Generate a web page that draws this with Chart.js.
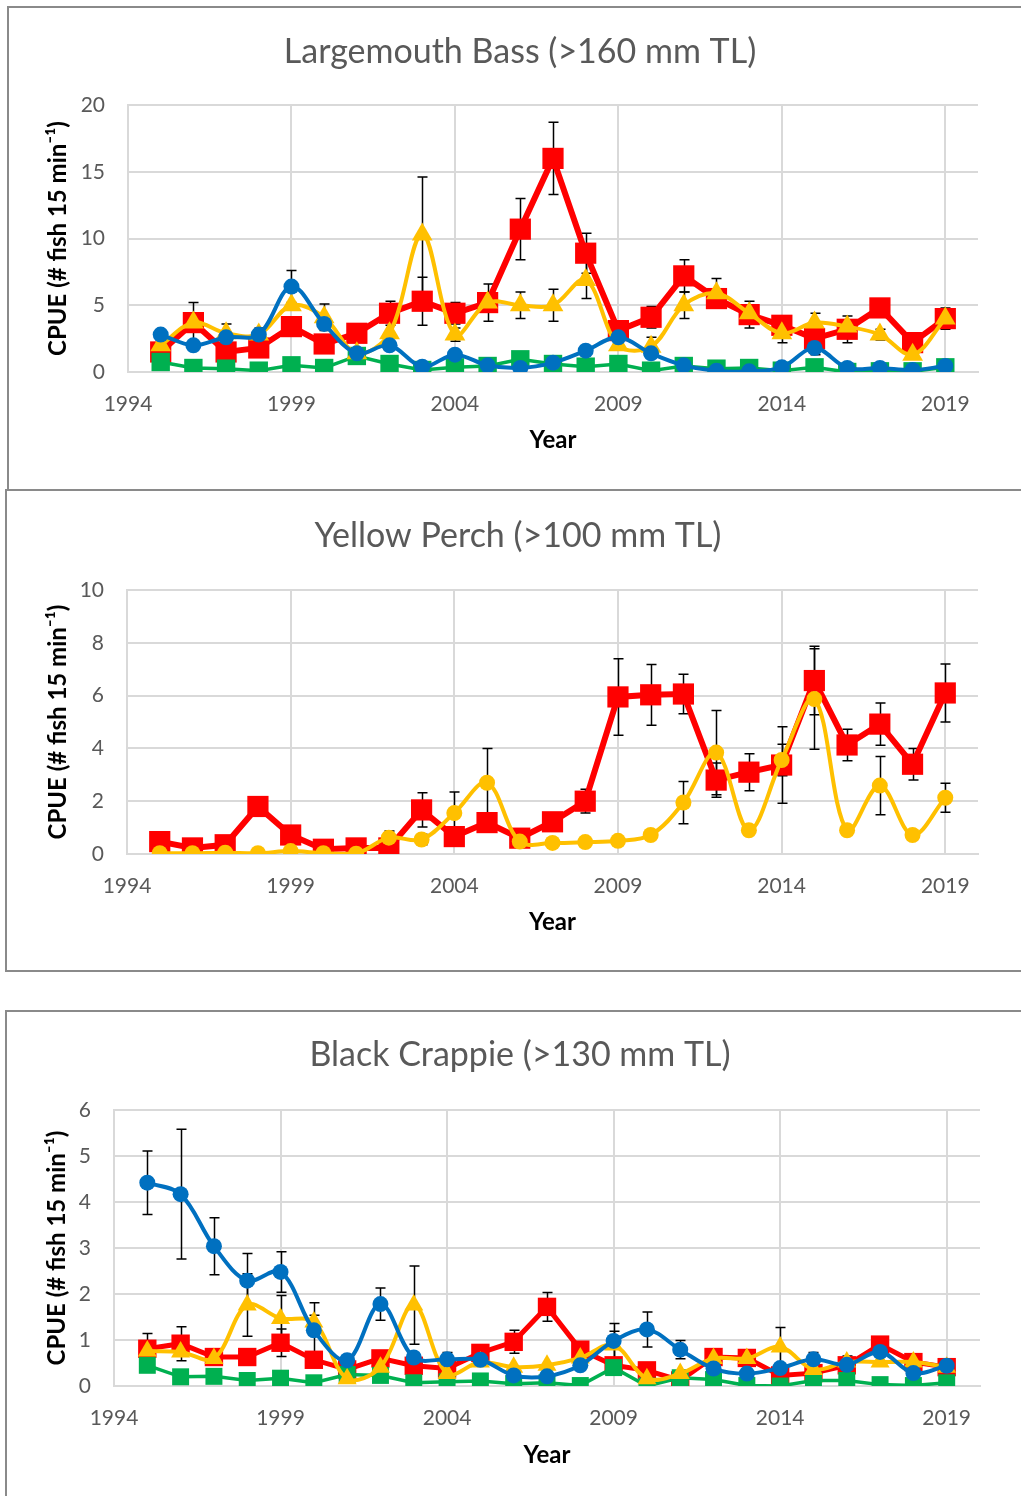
<!DOCTYPE html>
<html>
<head>
<meta charset="utf-8">
<script src="https://cdn.jsdelivr.net/npm/chart.js@4"></script>
<style>
  html, body { margin: 0; padding: 0; background: #fff; overflow: hidden; }
  body { width: 1021px; height: 1496px; position: relative; }
  .box { position: absolute; border: 2px solid #8a8a8a; border-right: none; width: 1100px; }
  canvas { position: absolute; }
</style>
</head>
<body>
<div class="box" style="left:7px; top:6px; height:481px;"></div>
<div class="box" style="left:5px; top:489px; height:479px;"></div>
<div class="box" style="left:5px; top:1010px; height:520px;"></div>

<canvas id="lmb" width="1011" height="480" style="left:10px; top:9px;"></canvas>
<canvas id="yp"  width="1013" height="478" style="left:8px; top:492px;"></canvas>
<canvas id="bc"  width="1013" height="483" style="left:8px; top:1013px;"></canvas>

<script>
// ── Data ──────────────────────────────────────────────────────────────────────
const years  = [1995, 1996, 1997, 1998, 1999, 2000, 2001, 2002, 2003, 2004, 2005, 2006, 2007,
                2008, 2009, 2010, 2011, 2012, 2013, 2014, 2015, 2016, 2017, 2018, 2019];
const xTicks = [1994, 1999, 2004, 2009, 2014, 2019];

// Largemouth Bass (>160 mm TL)
const lmbRed       = [1.5, 3.7, 1.5, 1.8, 3.4, 2.1, 2.9, 4.4, 5.3, 4.4, 5.2, 10.7, 16.0, 8.9, 3.1, 4.1, 7.2, 5.5, 4.3, 3.5, 2.5, 3.2, 4.8, 2.2, 4.0];
const lmbRedErr    = [0, 1.5, 0, 0, 0, 0, 0, 0.9, 1.8, 0.8, 1.4, 2.3, 2.7, 1.5, 0, 0.8, 1.2, 0.5, 1.0, 0, 0, 1.0, 0, 0, 0.8];
const lmbYellow    = [2.0, 3.7, 2.9, 2.8, 5.0, 4.1, 1.4, 2.9, 10.3, 2.8, 5.2, 5.0, 5.0, 6.9, 2.0, 1.9, 5.0, 5.9, 4.4, 2.9, 3.7, 3.4, 2.8, 1.3, 4.0];
const lmbYellowErr = [0, 0, 0.7, 0, 0, 1.0, 0, 0, 4.3, 0.5, 0, 1.0, 1.2, 1.4, 0, 0.7, 1.0, 1.1, 0, 0.7, 0.7, 0, 0.4, 0, 0];
const lmbBlue      = [2.8, 2.0, 2.6, 2.8, 6.4, 3.6, 1.4, 2.0, 0.4, 1.3, 0.5, 0.3, 0.7, 1.6, 2.6, 1.4, 0.5, 0.1, 0.05, 0.35, 1.8, 0.3, 0.3, 0.15, 0.45];
const lmbBlueErr   = [0, 0, 0, 0.5, 1.2, 0, 0, 0, 0, 0, 0, 0, 0, 0, 0, 0, 0, 0, 0, 0, 0.5, 0, 0, 0, 0];
const lmbGreen     = [0.75, 0.3, 0.25, 0.1, 0.5, 0.3, 1.2, 0.6, 0.15, 0.35, 0.45, 0.95, 0.6, 0.4, 0.6, 0.1, 0.45, 0.25, 0.3, 0.1, 0.35, 0, 0.05, 0.05, 0.35];

// Yellow Perch (>100 mm TL)
const ypRed        = [0.47, 0.23, 0.35, 1.8, 0.72, 0.18, 0.23, 0.23, 1.67, 0.66, 1.19, 0.6, 1.22, 2.0, 5.95, 6.03, 6.06, 2.8, 3.1, 3.37, 6.57, 4.13, 4.92, 3.4, 6.1];
const ypRedErr     = [0, 0, 0, 0, 0, 0, 0, 0, 0.65, 0, 0, 0, 0.3, 0.45, 1.45, 1.15, 0.75, 0.65, 0.7, 1.45, 1.3, 0.6, 0.8, 0.6, 1.1];
const ypYellow     = [0.03, 0.03, 0.05, 0.03, 0.11, 0.03, 0.01, 0.62, 0.55, 1.55, 2.7, 0.47, 0.42, 0.45, 0.5, 0.72, 1.95, 3.84, 0.9, 3.56, 5.87, 0.9, 2.59, 0.72, 2.13];
const ypYellowErr  = [0, 0, 0, 0, 0, 0, 0, 0.25, 0.2, 0.8, 1.3, 0.1, 0, 0.1, 0.05, 0, 0.8, 1.6, 0.1, 0.6, 1.9, 0.1, 1.1, 0.05, 0.55];

// Black Crappie (>130 mm TL)
const bcBlue       = [4.42, 4.17, 3.04, 2.29, 2.48, 1.21, 0.56, 1.78, 0.62, 0.58, 0.57, 0.23, 0.21, 0.45, 0.98, 1.23, 0.79, 0.38, 0.27, 0.39, 0.58, 0.46, 0.74, 0.28, 0.44];
const bcBlueErr    = [0.69, 1.41, 0.62, 0.59, 0.44, 0.6, 0, 0.35, 0, 0.15, 0, 0, 0, 0, 0.38, 0.38, 0.2, 0, 0, 0, 0.15, 0, 0, 0, 0];
const bcRed        = [0.81, 0.92, 0.63, 0.63, 0.94, 0.57, 0.36, 0.6, 0.44, 0.38, 0.72, 0.96, 1.72, 0.79, 0.45, 0.34, 0.12, 0.63, 0.61, 0.23, 0.28, 0.45, 0.9, 0.52, 0.41];
const bcRedErr     = [0.33, 0.37, 0, 0, 0.3, 0, 0, 0, 0, 0, 0.1, 0.25, 0.31, 0.15, 0, 0, 0, 0.15, 0.15, 0, 0, 0.2, 0, 0, 0];
const bcYellow     = [0.76, 0.74, 0.6, 1.76, 1.47, 1.39, 0.16, 0.41, 1.76, 0.27, 0.52, 0.41, 0.45, 0.61, 0.89, 0.16, 0.27, 0.6, 0.6, 0.85, 0.36, 0.52, 0.52, 0.52, 0.41];
const bcYellowErr  = [0, 0, 0, 0.68, 0.5, 0.15, 0, 0, 0.85, 0, 0, 0, 0, 0, 0.3, 0, 0, 0, 0, 0.42, 0, 0, 0, 0, 0];
const bcGreen      = [0.45, 0.2, 0.21, 0.12, 0.17, 0.07, 0.25, 0.23, 0.07, 0.09, 0.11, 0.05, 0.07, 0.01, 0.4, 0, 0.18, 0.14, 0.01, 0, 0.12, 0.12, 0.03, 0.01, 0.07];

const RED = "#ff0000", YELLOW = "#ffc000", BLUE = "#0070c0", GREEN = "#00b050";
const FONT = "Lato, 'Open Sans', sans-serif";
const TEXT = "#595959", GRID = "#d9d9d9";

// ── Error bars (drawn under the markers) ─────────────────────────────────────
const errorBars = {
  id: "errorBars",
  beforeDatasetsDraw(chart) {
    const { ctx, scales: { x, y } } = chart;
    ctx.save();
    ctx.strokeStyle = "#000";
    ctx.lineWidth = 1.5;
    chart.data.datasets.forEach(ds => {
      if (!ds.err) return;
      ds.data.forEach((p, i) => {
        const e = ds.err[i];
        if (!e) return;
        const px  = Math.round(x.getPixelForValue(p.x)) + 0.5;
        const top = y.getPixelForValue(p.y + e);
        const bot = y.getPixelForValue(Math.max(p.y - e, 0));
        ctx.beginPath();
        ctx.moveTo(px, top);     ctx.lineTo(px, bot);
        ctx.moveTo(px - 5, top); ctx.lineTo(px + 5, top);
        ctx.moveTo(px - 5, bot); ctx.lineTo(px + 5, bot);
        ctx.stroke();
      });
    });
    ctx.restore();
  }
};

function series(values, err, color, style, radius, width, tension) {
  return {
    data: values.map((v, i) => ({ x: years[i], y: v })),
    err,
    borderColor: color, backgroundColor: color,
    pointStyle: style, pointRadius: radius, pointHoverRadius: radius,
    pointBorderWidth: 0, borderWidth: width, tension,
  };
}

// g = geometry inside the canvas: plot box, title centre, axis title centres
function makeChart(id, title, datasets, yMax, yStep, g) {
  const canvas = document.getElementById(id);
  const W = canvas.width, H = canvas.height;
  const titlePadTop = g.titleY - 20;
  // left padding chosen so the chart title lands on its original centre
  const padL = 2 * g.titleX - g.right;
  return new Chart(canvas, {
    type: "line",
    data: { datasets },
    plugins: [errorBars],
    options: {
      responsive: false, animation: false, events: [],
      layout: { padding: { left: padL, right: W - g.right, top: 0, bottom: 0 } },
      plugins: {
        legend: { display: false },
        tooltip: { enabled: false },
        title: {
          display: true, text: title, color: TEXT,
          font: { family: FONT, size: 34, weight: "normal", lineHeight: 1.2 },
          padding: { top: titlePadTop, bottom: g.top - titlePadTop - 40.8 },
        },
      },
      scales: {
        x: {
          type: "linear", min: 1994, max: 2020,
          afterBuildTicks: s => { s.ticks = xTicks.map(v => ({ value: v })); },
          afterFit: s => { s.height = H - g.bottom; },
          grid: { color: GRID, lineWidth: 2, drawTicks: false },
          border: { color: GRID, width: 2 },
          ticks: { padding: 20, color: TEXT, font: { family: FONT, size: 21 }, maxRotation: 0,
                   callback: v => String(v) },
          title: {
            display: true, text: "Year", color: "#000",
            font: { family: FONT, size: 24, weight: "bold", lineHeight: 1.2 },
            padding: { top: 0, bottom: H - g.xTitleY - 14 },
          },
        },
        y: {
          min: 0, max: yMax,
          afterFit: s => { s.width = g.left - padL; },
          grid: { color: GRID, lineWidth: 2, drawTicks: false },
          border: { color: GRID, width: 2 },
          ticks: { stepSize: yStep, padding: 23, color: TEXT, font: { family: FONT, size: 21 } },
          title: {
            display: true, text: "CPUE (# fish 15 min⁻¹)", color: "#000",
            font: { family: FONT, size: 24, weight: "bold", lineHeight: 1.2 },
            padding: { top: g.yTitleX - 14 - padL, bottom: 0 },
          },
        },
      },
    },
  });
}

// Blue on top, red at the bottom
makeChart("lmb", "Largemouth Bass (>160 mm TL)", [
  series(lmbBlue,   lmbBlueErr,   BLUE,   "circle",   8,  4,   0.35),
  series(lmbYellow, lmbYellowErr, YELLOW, "triangle", 12, 4,   0.35),
  series(lmbGreen,  null,         GREEN,  "rect",     13, 3.5, 0),
  series(lmbRed,    lmbRedErr,    RED,    "rect",     15, 6,   0),
], 20, 5, { left: 118, right: 968, top: 96, bottom: 363, titleX: 510, titleY: 43, yTitleX: 48, xTitleY: 432 });

makeChart("yp", "Yellow Perch (>100 mm TL)", [
  series(ypYellow, ypYellowErr, YELLOW, "circle", 8,  4, 0.35),
  series(ypRed,    ypRedErr,    RED,    "rect",   15, 6, 0),
], 10, 2, { left: 119, right: 970, top: 98, bottom: 362, titleX: 510, titleY: 44, yTitleX: 50, xTitleY: 431 });

makeChart("bc", "Black Crappie (>130 mm TL)", [
  series(bcBlue,   bcBlueErr,   BLUE,   "circle",   8,  4,   0.35),
  series(bcYellow, bcYellowErr, YELLOW, "triangle", 11, 4,   0.35),
  series(bcGreen,  null,        GREEN,  "rect",     12, 3.5, 0),
  series(bcRed,    bcRedErr,    RED,    "rect",     13, 5,   0),
], 6, 1, { left: 106, right: 972, top: 97, bottom: 373, titleX: 512, titleY: 42, yTitleX: 49, xTitleY: 443 });
</script>
</body>
</html>
